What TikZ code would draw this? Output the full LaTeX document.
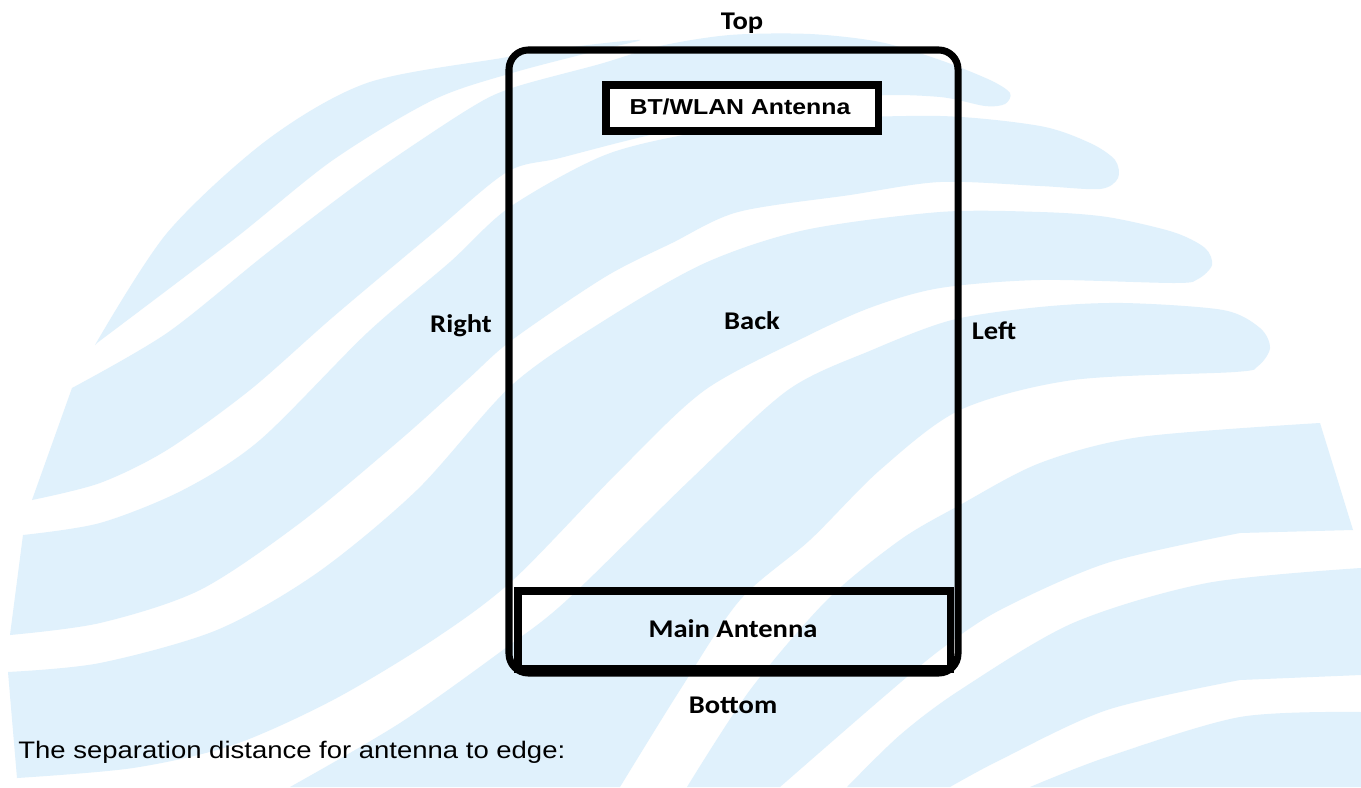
\documentclass[tikz,border=0pt]{standalone}
\usepackage{fontspec}
\setmainfont{Carlito}
\newfontfamily\lblfont[FakeStretch=1.12]{Carlito}
\newfontfamily\arialfont[FakeStretch=1.15]{Liberation Sans}
\usepackage{tikz}
\definecolor{wavefill}{RGB}{224,241,252}
\tikzset{
    wave/.style={fill=wavefill},
    side/.style={anchor=base, font=\lblfont\bfseries\fontsize{14.5}{17}\selectfont},
    antbox/.style={draw, line width=4pt}
}

\begin{document}
\begin{tikzpicture}[x=0.02cm, y=-0.02cm]
    \useasboundingbox (0, 0) rectangle (1361, 787);
    \fill[white] (0, 0) rectangle (1361, 787);
    \fill[wave] plot[smooth] coordinates {(95,345) (167,233) (267,140) (367,83) (502,58) (580,46) (640,40) (600,50) (512,73) (433,100) (333,160) (233,240) (97,343)} -- cycle;
    \fill[wave] plot[smooth] coordinates {(72,388) (167,333) (267,253) (367,177) (467,110) (512,88) (600,64) (660,46) (730,35) (810,34) (880,42) (940,60) (990,80) (1010,93) (1005,104) (985,106) (940,97) (870,96) (760,112) (650,135) (560,158) (507,172) (433,233) (333,317) (250,390) (167,450) (100,483) (32,500)} -- cycle;
    \fill[wave] plot[smooth] coordinates {(23,535) (100,523) (183,490) (260,440) (367,333) (450,262) (510,207) (605,155) (700,132) (800,120) (940,116) (1040,126) (1090,143) (1115,160) (1118,178) (1100,189) (1040,186) (940,182) (850,195) (738,212) (672,243) (605,277) (512,340) (467,380) (400,440) (300,523) (200,590) (100,623) (10,635)} -- cycle;
    \fill[wave] plot[smooth] coordinates {(8,672) (100,663) (217,630) (317,573) (417,490) (512,385) (605,320) (705,263) (805,230) (940,212) (1040,212) (1107,217) (1173,232) (1205,248) (1212,265) (1198,279) (1175,283) (1040,280) (940,288) (872,307) (805,337) (705,390) (620,470) (513,580) (433,640) (333,700) (233,745) (133,768) (17,778)} -- cycle;
    \fill[wave] plot[smooth] coordinates {(290,787) (400,723) (507,647) (567,600) (690,480) (788,390) (872,350) (952,320) (1040,307) (1123,303) (1223,310) (1260,328) (1270,348) (1258,366) (1235,372) (1073,380) (960,410) (880,470) (810,540) (740,600) (680,690) (620,787)} -- cycle;
    \fill[wave] plot[smooth] coordinates {(687,787) (750,690) (827,600) (900,540) (960,505) (1040,463) (1140,437) (1320,423)} -- (1353,530) -- plot[smooth] coordinates {(1240,533) (1107,563) (1000,610) (940,650) (880,700) (780,787)} -- cycle;
    \fill[wave] plot[smooth] coordinates {(847,787) (900,735) (960,690) (1073,623) (1207,583) (1361,568)} -- (1361,675) -- plot[smooth] coordinates {(1240,680) (1107,710) (1000,760) (950,787)} -- cycle;
    \fill[wave] plot[smooth] coordinates {(1030,787) (1107,757) (1240,717) (1361,712)} -- (1361,787) -- cycle;
    \draw[line width=4pt, rounded corners=11pt] (509, 50) rectangle (958, 673);
    \draw[antbox, fill=white] (606, 85) rectangle (878, 131);
    \draw[antbox] (518, 591) rectangle (950, 669);
    \node[side] (top) at (742, 30) {Top};
    \node[anchor=base, font=\arialfont\bfseries\fontsize{12.3}{15}\selectfont] (bt) at (740, 115) {BT/WLAN Antenna};
    \node[side] (right) at (461, 332) {Right};
    \node[side] (back) at (752, 329) {Back};
    \node[side] (left) at (994, 339) {Left};
    \node[side] (main) at (733, 637) {Main Antenna};
    \node[side] (bottom) at (733, 713) {Bottom};
    \node[anchor=base west, inner sep=0pt, font=\arialfont\fontsize{13.6}{16}\selectfont] (note) at (18, 758) {The separation distance for antenna to edge:};
\end{tikzpicture}
\end{document}
